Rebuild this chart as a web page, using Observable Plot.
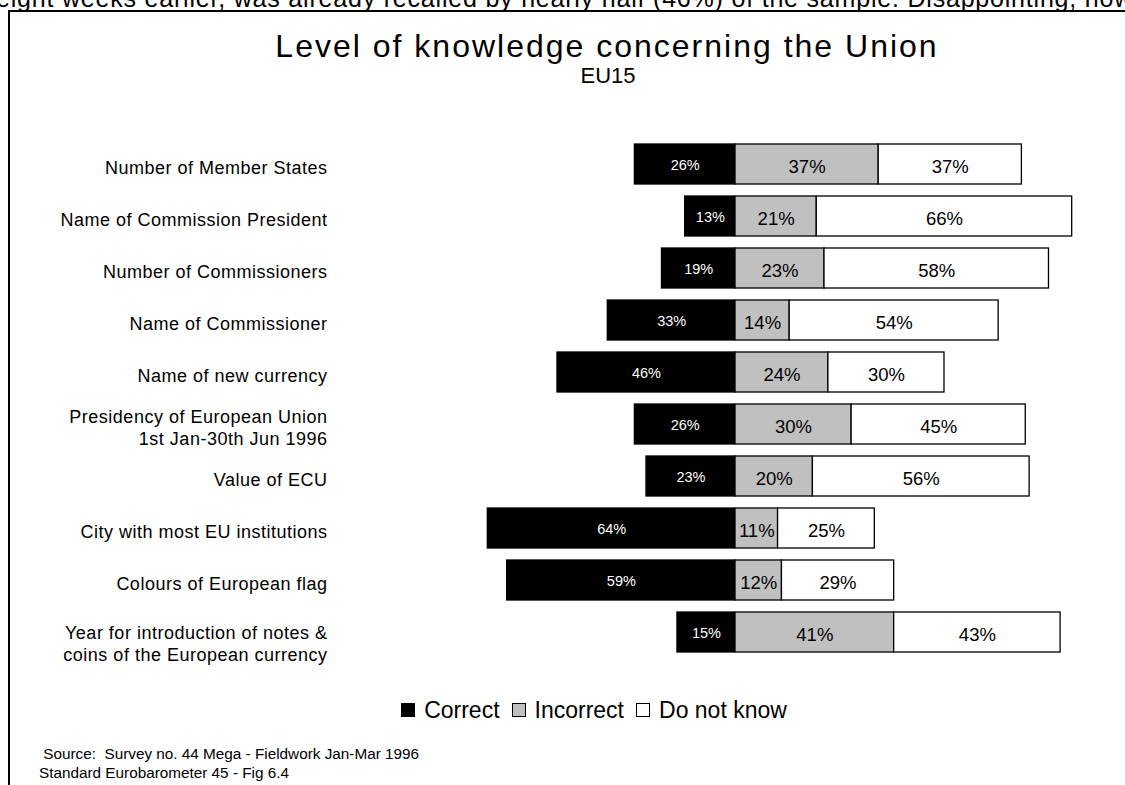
<!DOCTYPE html>
<html>
<head>
<meta charset="utf-8">
<script src="https://cdn.jsdelivr.net/npm/d3@7"></script>
<script src="https://cdn.jsdelivr.net/npm/@observablehq/plot@0.6"></script>
<style>
  html, body { margin: 0; padding: 0; background: #fff; }
  body { font-family: "Liberation Sans", Arial, Helvetica, sans-serif; color: #000; }
  #page { position: relative; width: 1125px; height: 785px; overflow: hidden; }
  #topline { position: absolute; left: -4px; top: -14px; font-size: 25px; line-height: 25px; letter-spacing: 0.8px; white-space: nowrap; }
  #box { position: absolute; left: 8px; top: 10px; width: 2000px; height: 900px; border-left: 2px solid #000; border-top: 2px solid #000; }
  #title { position: absolute; left: 0; width: 1214px; top: 28px; text-align: center; font-size: 32px; line-height: 36px; letter-spacing: 2px; white-space: nowrap; }
  #subtitle { position: absolute; left: 0; width: 1216px; top: 63px; text-align: center; font-size: 22px; line-height: 25px; }
  #chart { position: absolute; left: 0; top: 0; }
  #legend { position: absolute; left: 0; width: 1188px; top: 697px; display: flex; justify-content: center; align-items: center; font-size: 23px; line-height: 26px; }
  #legend .item { display: flex; align-items: center; margin: 0 6px; }
  #legend .sw { width: 12px; height: 12px; border: 1px solid #000; margin-right: 9px; box-sizing: content-box; }
  #source { position: absolute; left: 39px; top: 744px; font-size: 15.3px; line-height: 19px; white-space: pre; }
</style>
</head>
<body>
<div id="page">
  <div id="topline">eight weeks earlier, was already recalled by nearly half (46%) of the sample.  Disappointing, how</div>
  <div id="box"></div>
  <div id="title">Level of knowledge concerning the Union</div>
  <div id="subtitle">EU15</div>
  <div id="chart"></div>
  <div id="legend"></div>
  <div id="source"></div>
</div>
<script>
// ---- data ----
const questions = [
  "Number of Member States",
  "Name of Commission President",
  "Number of Commissioners",
  "Name of Commissioner",
  "Name of new currency",
  "Presidency of European Union\n1st Jan-30th Jun 1996",
  "Value of ECU",
  "City with most EU institutions",
  "Colours of European flag",
  "Year for introduction of notes &\ncoins of the European currency"
];
const correct   = [26, 13, 19, 33, 46, 26, 23, 64, 59, 15];
const incorrect = [37, 21, 23, 14, 24, 30, 20, 11, 12, 41];
const dontKnow  = [37, 66, 58, 54, 30, 45, 56, 25, 29, 43];
const seriesNames = ["Correct", "Incorrect", "Do not know"];
const seriesColors = ["#000000", "#c0c0c0", "#ffffff"];
const sourceLines = [
  " Source:  Survey no. 44 Mega - Fieldwork Jan-Mar 1996",
  "Standard Eurobarometer 45 - Fig 6.4"
];

// ---- build segments ----
const rows = [];
questions.forEach((q, i) => {
  rows.push({q, series: seriesNames[0], v: correct[i], x1: -correct[i], x2: 0});
  rows.push({q, series: seriesNames[1], v: incorrect[i], x1: 0, x2: incorrect[i]});
  rows.push({q, series: seriesNames[2], v: dontKnow[i], x1: incorrect[i], x2: incorrect[i] + dontKnow[i]});
});
const lastQ = questions[questions.length - 1];

const zeroPx = 735, pxPerPct = 3.87;

const chart = Plot.plot({
  width: 1125,
  height: 785,
  marginLeft: 327,
  marginRight: 0,
  marginTop: 0,
  marginBottom: 0,
  style: {fontFamily: '"Liberation Sans", Arial, sans-serif', background: "transparent", overflow: "visible"},
  x: {domain: [-100, 100], range: [zeroPx - 100 * pxPerPct, zeroPx + 100 * pxPerPct], axis: null},
  y: {type: "band", domain: questions, range: [130.1, 664.8], padding: 0.24, axis: null},
  color: {type: "ordinal", domain: seriesNames, range: seriesColors},
  marks: [
    Plot.barX(rows, {x1: "x1", x2: "x2", y: "q", fill: "series", stroke: "#000", strokeWidth: 1.3}),
    Plot.text(rows.filter(d => d.series === seriesNames[0]), {
      x: d => (d.x1 + d.x2) / 2, y: "q", text: d => d.v + "%",
      fill: "#fff", fontSize: 14.5, dy: 1
    }),
    Plot.text(rows.filter(d => d.series !== seriesNames[0]), {
      x: d => (d.x1 + d.x2) / 2, y: "q", text: d => d.v + "%",
      fill: "#000", fontSize: 18.5, dy: 3
    }),
    Plot.text(questions.filter(q => q !== lastQ), {
      y: d => d, text: d => d, frameAnchor: "left", textAnchor: "end",
      fontSize: 18, lineHeight: 1.22, fill: "#000", dy: 2, dx: 0
    }),
    Plot.text([lastQ], {
      y: d => d, text: d => d, frameAnchor: "left", textAnchor: "end",
      lineAnchor: "top", fontSize: 18, lineHeight: 1.22, fill: "#000", dy: -9
    })
  ]
});
chart.querySelectorAll("g[aria-label='text'] text").forEach(t => {
  if (t.getAttribute("font-size") === "18" || t.parentNode.getAttribute("font-size") === "18") t.style.letterSpacing = "0.5px";
});
document.getElementById("chart").appendChild(chart);

// legend
const legend = document.getElementById("legend");
seriesNames.forEach((name, i) => {
  const item = document.createElement("div");
  item.className = "item";
  const sw = document.createElement("div");
  sw.className = "sw";
  sw.style.background = seriesColors[i];
  const label = document.createElement("span");
  label.textContent = name;
  item.appendChild(sw);
  item.appendChild(label);
  legend.appendChild(item);
});
document.getElementById("source").textContent = sourceLines.join("\n");
</script>
</body>
</html>
